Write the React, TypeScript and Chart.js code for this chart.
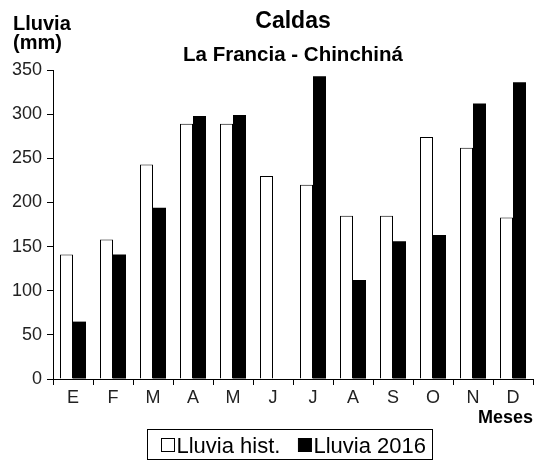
import React, { useEffect, useRef } from "react";
import { Chart, registerables } from "chart.js";

Chart.register(...registerables);

const months = ["E", "F", "M", "A", "M", "J", "J", "A", "S", "O", "N", "D"];
const lluviaHist = [141, 158, 243, 289, 289, 230, 220, 185, 185, 274, 262, 183];
const lluvia2016: (number | null)[] = [65, 141, 194, 298, 299, null, 343, 112, 156, 163, 312, 336];
const seriesNames = ["Lluvia hist.", "Lluvia 2016"];
const yMin = 0;
const yMax = 350;
const yStep = 50;
const chartTitle = "Caldas";
const chartSubtitle = "La Francia - Chinchiná";
const yTitleLines = ["Lluvia", "(mm)"];
const xTitle = "Meses";

const FONT = '"Liberation Sans", Arial, Helvetica, sans-serif';

const textPlugin = {
  id: "customTexts",
  afterDraw(chart: any) {
    const { ctx, chartArea } = chart;
    const cx = (chartArea.left + chartArea.right) / 2;
    ctx.save();
    ctx.fillStyle = "#000";
    ctx.textBaseline = "alphabetic";

    ctx.textAlign = "center";
    ctx.font = `bold 23px ${FONT}`;
    ctx.fillText(chartTitle, cx, 28);
    ctx.font = `bold 20.5px ${FONT}`;
    ctx.fillText(chartSubtitle, cx, 61);

    ctx.textAlign = "left";
    ctx.font = `bold 20px ${FONT}`;
    ctx.fillText(yTitleLines[0], 13, 30);
    ctx.fillText(yTitleLines[1], 13, 49);

    ctx.textAlign = "right";
    ctx.font = `bold 18px ${FONT}`;
    ctx.fillText(xTitle, chartArea.right, 423);

    // legend
    ctx.font = `22px ${FONT}`;
    ctx.textAlign = "left";
    const sq = 13;
    const w1 = ctx.measureText(seriesNames[0]).width;
    const w2 = ctx.measureText(seriesNames[1]).width;
    const padL = 14, padR = 7, gapT = 2, gapItem = 18;
    const total = padL + sq + gapT + w1 + gapItem + sq + gapT + w2 + padR;
    const bx = Math.round(289.5 - total / 2) + 0.5;
    const by = 429.5;
    const bh = 30;
    ctx.lineWidth = 1;
    ctx.strokeStyle = "#000";
    ctx.strokeRect(bx, by, Math.round(total), bh);
    let x = bx + padL;
    const sqTop = 438.5;
    ctx.fillStyle = "#fff";
    ctx.fillRect(x, sqTop, sq, sq);
    ctx.strokeRect(x, sqTop, sq, sq);
    x += sq + gapT;
    ctx.fillStyle = "#000";
    ctx.fillText(seriesNames[0], x, 453);
    x += w1 + gapItem;
    ctx.fillRect(x, sqTop, sq, sq);
    ctx.strokeRect(x, sqTop, sq, sq);
    x += sq + gapT;
    ctx.fillText(seriesNames[1], x, 453);
    ctx.restore();
  },
};

export default function App() {
  const canvasRef = useRef<HTMLCanvasElement | null>(null);

  useEffect(() => {
    const canvas = canvasRef.current;
    if (!canvas) return;
    const chart = new Chart(canvas, {
      type: "bar",
      data: {
        labels: months,
        datasets: [
          {
            label: seriesNames[0],
            data: lluviaHist,
            backgroundColor: "#ffffff",
            borderColor: "#000000",
            borderWidth: 1,
            categoryPercentage: 0.65,
            barPercentage: 1.0,
          },
          {
            label: seriesNames[1],
            data: lluvia2016,
            backgroundColor: "#000000",
            borderColor: "#000000",
            borderWidth: 0,
            categoryPercentage: 0.65,
            barPercentage: 1.0,
          },
        ],
      },
      options: {
        animation: false,
        responsive: true,
        maintainAspectRatio: false,
        layout: { padding: { top: 70, right: 7, left: 0, bottom: 0 } },
        plugins: {
          legend: { display: false },
          title: { display: false },
          tooltip: { enabled: false },
        },
        scales: {
          x: {
            offset: true,
            grid: {
              display: true,
              offset: true,
              drawOnChartArea: false,
              drawTicks: true,
              tickLength: 6,
              color: "#000",
            },
            border: { display: true, color: "#000", width: 1 },
            ticks: {
              color: "#222",
              font: { family: FONT, size: 18 },
              padding: 2,
              maxRotation: 0,
              autoSkip: false,
            },
            afterFit(scale: any) {
              scale.height = 82;
            },
          },
          y: {
            min: yMin,
            max: yMax,
            grid: {
              display: true,
              drawOnChartArea: false,
              drawTicks: true,
              tickLength: 6,
              color: "#000",
            },
            border: { display: true, color: "#000", width: 1 },
            ticks: {
              stepSize: yStep,
              color: "#222",
              font: { family: FONT, size: 18 },
              padding: 5,
            },
            afterFit(scale: any) {
              scale.width = 53;
            },
          },
        },
      },
      plugins: [textPlugin],
    });
    return () => chart.destroy();
  }, []);

  return (
    <div style={{ position: "fixed", left: 0, top: 0, width: 540, height: 461, background: "#fff" }}>
      <canvas ref={canvasRef} />
    </div>
  );
}
